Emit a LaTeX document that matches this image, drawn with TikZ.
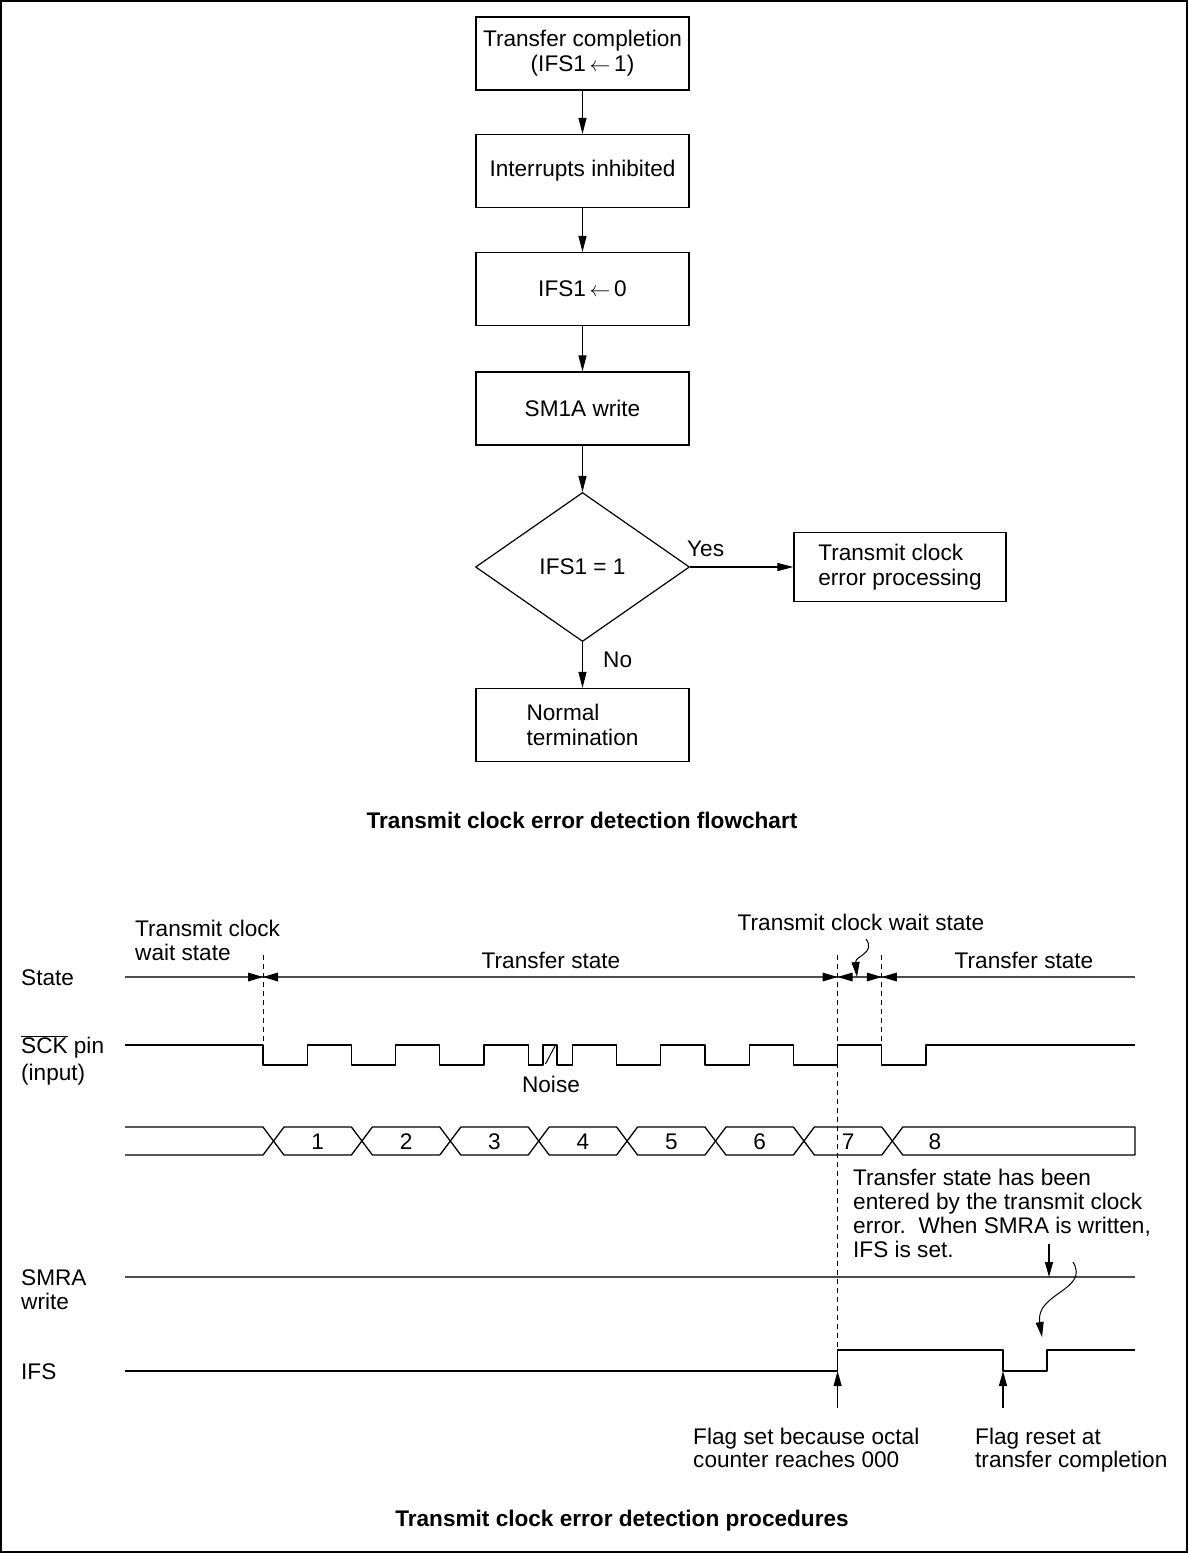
\documentclass[tikz,border=0pt]{standalone}
\usepackage{fontspec}
\setmainfont{Liberation Sans}
\usetikzlibrary{arrows.meta,shapes.geometric}
\begin{document}
\begin{tikzpicture}[x=1pt,y=-1pt,
  every node/.style={font=\fontsize{22.6}{25}\selectfont, inner sep=0pt},
  box/.style={draw, line width=1.2pt, minimum width=213pt, minimum height=73pt, align=center},
  flow/.style={line width=1.2pt, -{Triangle[length=16pt,width=8pt]}},
  sig/.style={line width=1.3pt, line join=round},
  graysig/.style={line width=1.3pt, draw=black!70},
  dsh/.style={line width=1pt, dash pattern=on 5pt off 4pt},
  lbl/.style={anchor=base west},
  tip/.style={-{Triangle[length=15pt,width=8pt]}, line width=1.2pt},
  captxt/.style={font=\fontsize{22.6}{25}\selectfont\bfseries}
]
\useasboundingbox (0,0) rectangle (1188,1553);
\draw[line width=1.5pt] (1,1) rectangle (1187,1552);

% ---------------- flowchart ----------------
\node[box] (b1) at (582.5,53.5) {Transfer completion\\(IFS1\,$\leftarrow$\,1)};
\node[box] (b2) at (582.5,171) {Interrupts inhibited};
\node[box] (b3) at (582.5,289) {IFS1\,$\leftarrow$\,0};
\node[box] (b4) at (582.5,408.5) {SM1A write};
\node[draw, line width=1.2pt, shape=diamond, minimum width=214pt, minimum height=149pt] (d) at (582.5,567) {IFS1 = 1};
\node[box, minimum width=212pt, minimum height=69pt, align=left] (te) at (900,567) {Transmit clock\\error processing};
\node[box, align=left] (nt) at (582.5,725) {Normal\\termination};

\draw[flow] (b1) -- (b2);
\draw[flow] (b2) -- (b3);
\draw[flow] (b3) -- (b4);
\draw[flow] (b4) -- (d);
\draw[flow] (d.east) -- (te.west);
\draw[flow] (d.south) -- (nt.north);
\node[lbl] (yes) at (687,556) {Yes};
\node[lbl] (no) at (603,667) {No};

\node[captxt] (c1) at (582,820) {Transmit clock error detection flowchart};

% ---------------- timing chart ----------------
\node[lbl] (lstate) at (21,985) {State};
\node[lbl] (lsck1) at (21,1053) {$\overline{\mbox{SCK}}$ pin};
\node[lbl] (lsck2) at (21,1080) {(input)};
\node[lbl] (lsmra1) at (21,1285) {SMRA};
\node[lbl] (lsmra2) at (21,1309) {write};
\node[lbl] (lifs) at (21,1379) {IFS};

\node[lbl] (tw1) at (135,936) {Transmit clock};
\node[lbl] (tw2) at (135,960) {wait state};
\node[anchor=base] (ts1) at (551,968) {Transfer state};
\node[anchor=base] (tw3) at (861,930) {Transmit clock wait state};
\node[anchor=base] (ts2) at (1024,968) {Transfer state};
\node[anchor=base] (noise) at (551,1092) {Noise};

% state line
\draw[graysig] (125,977) -- (1135,977);
\foreach \x in {263,837.6,881.8}{
  \fill (\x,977) -- (\x-15,972.5) -- (\x-15,981.5) -- cycle;
  \fill (\x,977) -- (\x+15,972.5) -- (\x+15,981.5) -- cycle;
}
% dashed markers
\draw[dsh] (263,955) -- (263,1045);
\draw[dsh] (837.6,955) -- (837.6,1350);
\draw[dsh] (881.8,955) -- (881.8,1045);
% curly pointer of wait state
\coordinate (cw0) at (866,939);
\coordinate (cw1) at (857,977);
\draw[tip, line width=1pt] (cw0) .. controls (876,953) and (855,956) .. (cw1);

% SCK waveform
\draw[sig] (125,1045) -- (263,1045) -- (263,1065) -- (307.2,1065) -- (307.2,1045)
  -- (351.4,1045) -- (351.4,1065) -- (395.6,1065) -- (395.6,1045)
  -- (439.8,1045) -- (439.8,1065) -- (484,1065) -- (484,1045)
  -- (528.2,1045) -- (528.2,1065) -- (543,1065) -- (543,1045)
  -- (557,1045) -- (557,1065) -- (572.4,1065) -- (572.4,1045)
  -- (616.6,1045) -- (616.6,1065) -- (660.8,1065) -- (660.8,1045)
  -- (705,1045) -- (705,1065) -- (749.2,1065) -- (749.2,1045)
  -- (793.4,1045) -- (793.4,1065) -- (837.6,1065) -- (837.6,1045)
  -- (881.8,1045) -- (881.8,1065) -- (926,1065) -- (926,1045) -- (1135,1045);
\draw[line width=1pt] (545.5,1064) -- (555,1046);

% data row
\draw[sig] (125,1127) -- (263,1127) -- (284,1155) -- (351.4,1155) -- (372.4,1127)
  -- (439.8,1127) -- (460.8,1155) -- (528.2,1155) -- (549.2,1127)
  -- (616.6,1127) -- (637.6,1155) -- (705,1155) -- (726,1127)
  -- (793.4,1127) -- (814.4,1155) -- (881.8,1155) -- (902.8,1127)
  -- (1135,1127) -- (1135,1155);
\draw[sig] (125,1155) -- (263,1155) -- (284,1127) -- (351.4,1127) -- (372.4,1155)
  -- (439.8,1155) -- (460.8,1127) -- (528.2,1127) -- (549.2,1155)
  -- (616.6,1155) -- (637.6,1127) -- (705,1127) -- (726,1155)
  -- (793.4,1155) -- (814.4,1127) -- (881.8,1127) -- (902.8,1155) -- (1135,1155);
\foreach \x/\n in {317.7/1,406.1/2,494.5/3,582.9/4,671.3/5,759.7/6,848.1/7,935/8}{
  \node[anchor=base] (cell\n) at (\x,1149) {\n};
}

% note
\node[lbl] (n1) at (853,1185) {Transfer state has been};
\node[lbl] (n2) at (853,1209) {entered by the transmit clock};
\node[lbl] (n3) at (853,1233) {error.\ \ When SMRA is written,};
\node[lbl] (n4) at (853,1257) {IFS is set.};

% SMRA line
\draw[graysig] (125,1277) -- (1135,1277);
\coordinate (wa) at (1049,1244);
\coordinate (wb) at (1049,1277);
\draw[tip] (wa) -- (wb);
\coordinate (sa) at (1073,1262);
\coordinate (sb) at (1042,1337);
\draw[tip, line width=1pt] (sa) .. controls (1090,1290) and (1035,1293) .. (sb);

% IFS
\draw[sig] (125,1371) -- (837.6,1371) -- (837.6,1350) -- (1003,1350) -- (1003,1371)
  -- (1047,1371) -- (1047,1350) -- (1135,1350);
\coordinate (fa) at (837.6,1408);
\coordinate (fb) at (837.6,1371);
\coordinate (ra) at (1003,1408);
\coordinate (rb) at (1003,1371);
\draw[tip] (fa) -- (fb);
\draw[tip] (ra) -- (rb);

\node[lbl] (f1) at (693,1444) {Flag set because octal};
\node[lbl] (f2) at (693,1467) {counter reaches 000};
\node[lbl] (f3) at (975,1444) {Flag reset at};
\node[lbl] (f4) at (975,1467) {transfer completion};

\node[captxt] (c2) at (622,1521) {Transmit clock error detection procedures};
\end{tikzpicture}
\end{document}
